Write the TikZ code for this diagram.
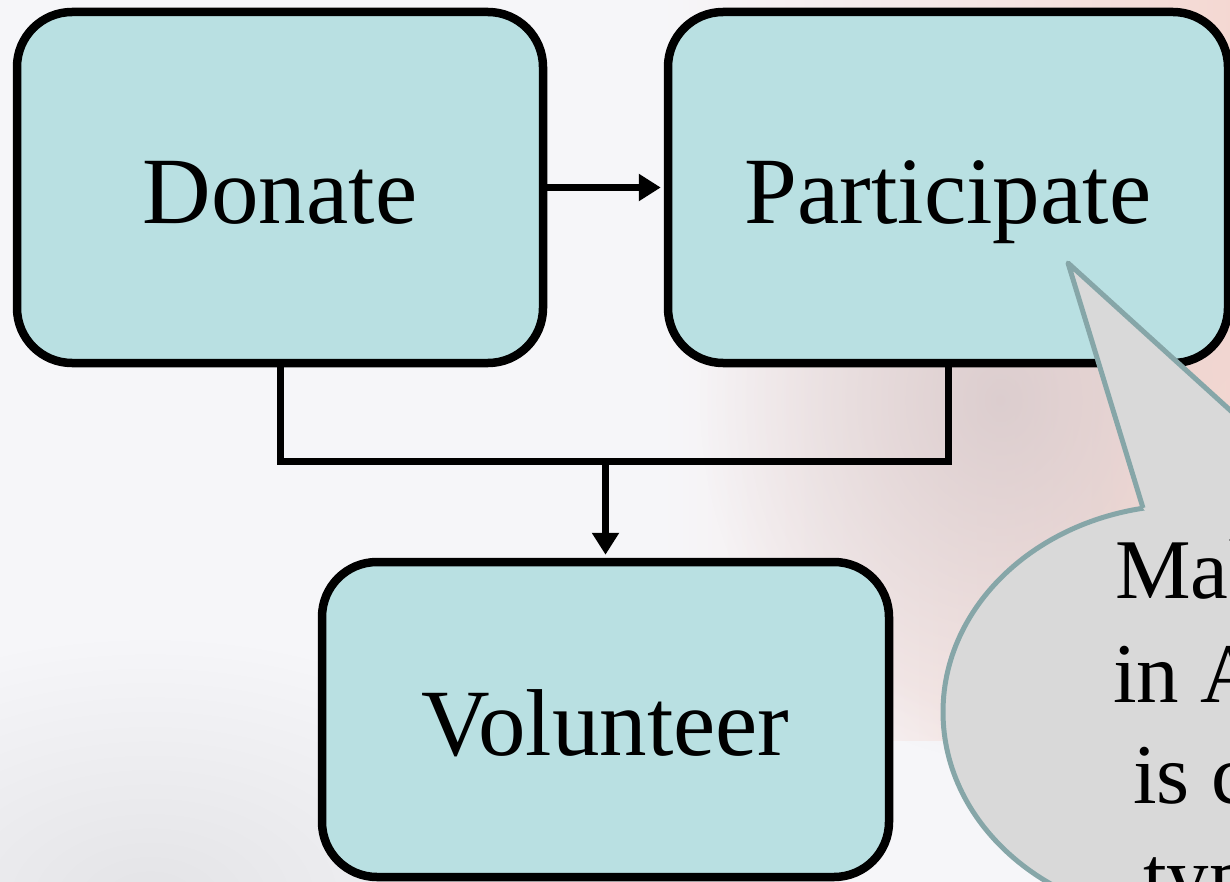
\documentclass[tikz,border=0pt]{standalone}
\usepackage{fontspec}
\setmainfont{Liberation Serif}
\usetikzlibrary{arrows.meta,fadings}
\definecolor{boxfill}{RGB}{185,224,226}
\definecolor{calfill}{RGB}{217,217,217}
\definecolor{caledge}{RGB}{134,166,168}
\definecolor{bg}{RGB}{246,246,249}
\definecolor{pinkgrey}{RGB}{208,192,195}
\definecolor{mauve}{RGB}{214,200,202}
\definecolor{pinkbg}{RGB}{244,216,210}
\definecolor{greybg}{RGB}{228,228,231}
\tikzfading[name=softblob, inner color=transparent!0, outer color=transparent!100]
\tikzset{
  stepbox/.style={draw=black, line width=8.5pt, fill=boxfill, rounded corners=55pt,
    inner sep=0pt, font=\fontsize{95}{114}\selectfont, text height=86pt, text depth=14pt},
  conn/.style={draw=black, line width=7pt},
  arr/.style={conn, -{Triangle[length=22pt,width=26pt]}, shorten >=3pt},
  caltext/.style={inner sep=0pt, anchor=base west, font=\fontsize{85}{102}\selectfont}
}
\begin{document}
\begin{tikzpicture}[x=1pt,y=-1pt]
\useasboundingbox (0,0) rectangle (1230,882);
\clip (0,0) rectangle (1230,882);
% background photo approximation
\fill[bg] (0,0) rectangle (1230,882);
\fill[greybg, path fading=softblob] (150,900) ellipse [x radius=420, y radius=260];
\shade[left color=bg, middle color=pinkgrey, right color=pinkbg] (660,-5) rectangle (1235,740);
\fill[mauve, opacity=0.8, path fading=softblob] (1000,400) ellipse [x radius=300, y radius=360];
\fill[pinkbg, path fading=softblob] (1250,470) ellipse [x radius=160, y radius=300];
\fill[bg, path fading=softblob] (760,770) ellipse [x radius=220, y radius=120];

% boxes
\node[stepbox, minimum width=526pt, minimum height=351pt] (donate) at (280,187.5) {Donate};
\node[stepbox, minimum width=560pt, minimum height=351pt] (participate) at (948,187.5) {Participate};
\node[stepbox, minimum width=567pt, minimum height=315pt] (volunteer) at (605.5,719.5) {Volunteer};

% connectors
\coordinate (bar) at (605.5,461);
\draw[arr] (donate.east) -- (participate.west);
\draw[conn] (donate.south) |- (bar) -| (participate.south);
\draw[arr] (bar) -- (volunteer.north);

% callout
\coordinate (tip) at (1068,263);
\coordinate (baseL) at (1143,508);
\coordinate (baseR) at (1340,510);
\filldraw[fill=calfill, draw=caledge, line width=5pt] (1186,712) ellipse [x radius=243, y radius=207];
\fill[calfill] (tip) -- (baseL) -- (1186,570) -- (1340,570) -- (baseR) -- cycle;
\draw[caledge, line width=5pt, line join=round] (baseL) -- (tip) -- (baseR);

\node[caltext] (l1) at (1115,598) {Mak};
\node[caltext] (l2) at (1113,702) {in A};
\node[caltext] (l3) at (1133,803) {is c};
\node[caltext] (l4) at (1143,905) {typ};
\end{tikzpicture}
\end{document}
